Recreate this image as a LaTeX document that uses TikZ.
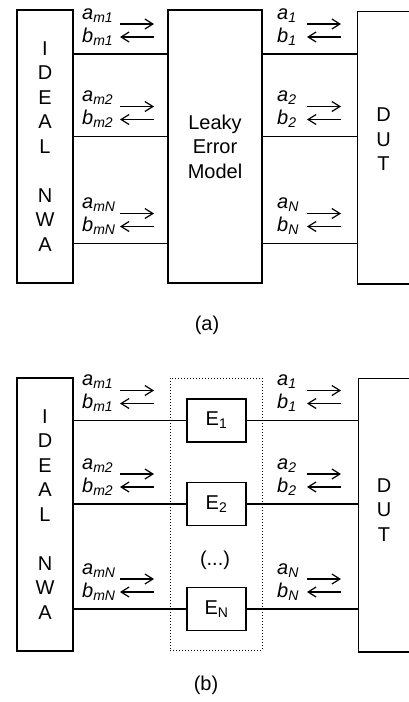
\documentclass[tikz,border=0pt]{standalone}
\usepackage{fontspec}
\setmainfont{Liberation Sans}
\usepackage{tikz}
\usetikzlibrary{arrows.meta,positioning}
\newcommand{\figfont}{\fontsize{20}{24.5}\selectfont}
\tikzset{
  unit/.style={draw,line width=1.5pt,minimum width=56pt,minimum height=273pt,
    inner sep=0pt,align=center},
  leaky/.style={draw,line width=1.5pt,minimum width=94pt,minimum height=273pt,
    inner sep=0pt,align=center},
  errbox/.style={draw,line width=1.5pt,minimum width=59pt,minimum height=43pt,
    inner sep=0pt},
  group/.style={draw,dotted,line width=1pt,minimum width=92pt,minimum height=272pt,
    inner sep=0pt},
  frame/.style={line width=1.5pt},
  wire/.style={line width=1.3pt},
  wave/.style={font=\figfont\itshape,anchor=base west,inner sep=0pt},
  fwd/.style={-{Straight Barb[length=8pt,width=10pt]},line width=1.2pt},
  bwd/.style={{Straight Barb[length=8pt,width=10pt]}-,line width=1.2pt}
}
\begin{document}
\begin{tikzpicture}[x=1pt,y=-1pt,font=\figfont]
  \useasboundingbox (0,0) rectangle (409,702);
  % (a) leaky error model
  \node[unit] (nwaA) at (45,146.5) {I\\D\\E\\A\\L\\[24.5pt]N\\W\\A};
  \node[leaky] (leak) at (215,146.5) {Leaky\\Error\\Model};
  \node[unit,draw=none,minimum width=51pt,minimum height=271pt] (dutA) at (383.5,147.5) {};
  \node[align=center] (dutAtext) at ([yshift=8pt]dutA.center) {D\\U\\T};
  \draw[frame] (dutA.north east) -- (dutA.north west) -- (dutA.south west) -- (dutA.south east);
  \foreach \y/\k in {54/1,136.5/2,243.5/N}{
    \coordinate (rowA\k) at (0,\y);
    \draw[wire] (nwaA.east |- rowA\k) -- (leak.west |- rowA\k);
    \draw[wire] (leak.east |- rowA\k) -- (dutA.west |- rowA\k);
    \node[wave] (amA\k) at (82,\y-35) {a\textsubscript{m\k}};
    \node[wave] (bmA\k) at (82,\y-12) {b\textsubscript{m\k}};
    \node[wave] (aA\k) at (277,\y-35) {a\textsubscript{\k}};
    \node[wave] (bA\k) at (277,\y-12) {b\textsubscript{\k}};
    \coordinate (fmA\k) at (120,\y-30);
    \coordinate (gmA\k) at (120,\y-17);
    \coordinate (fA\k) at (307,\y-30);
    \coordinate (gA\k) at (307,\y-17);
    \draw[fwd] (fmA\k) -- ++(34,0);
    \draw[bwd] (gmA\k) -- ++(34,0);
    \draw[fwd] (fA\k) -- ++(34,0);
    \draw[bwd] (gA\k) -- ++(34,0);
  }
  \node (capA) at (207,325) {(a)};
  % (b) separate error boxes
  \node[unit] (nwaB) at (45,514.5) {I\\D\\E\\A\\L\\[24.5pt]N\\W\\A};
  \node[group] (grp) at (216,514) {};
  \node[errbox] (e1) at (216.5,420.5) {E\textsubscript{1}};
  \node[errbox] (e2) at (216.5,504) {E\textsubscript{2}};
  \node[errbox] (eN) at (216.5,609) {E\textsubscript{N}};
  \node (dots) at (215,560) {(...)};
  \node[unit,draw=none,minimum width=50pt,minimum height=272pt] (dutB) at (384,515) {};
  \node[align=center] (dutBtext) at ([yshift=5pt]dutB.center) {D\\U\\T};
  \draw[frame] (dutB.north east) -- (dutB.north west) -- (dutB.south west) -- (dutB.south east);
  \foreach \y/\k in {420.5/1,504/2,609/N}{
    \draw[wire] (nwaB.east |- e\k.west) -- (e\k.west);
    \draw[wire] (e\k.east) -- (dutB.west |- e\k.east);
    \node[wave] (amB\k) at (82,\y-35) {a\textsubscript{m\k}};
    \node[wave] (bmB\k) at (82,\y-12) {b\textsubscript{m\k}};
    \node[wave] (aB\k) at (277,\y-35) {a\textsubscript{\k}};
    \node[wave] (bB\k) at (277,\y-12) {b\textsubscript{\k}};
    \coordinate (fmB\k) at (120,\y-30);
    \coordinate (gmB\k) at (120,\y-17);
    \coordinate (fB\k) at (307,\y-30);
    \coordinate (gB\k) at (307,\y-17);
    \draw[fwd] (fmB\k) -- ++(34,0);
    \draw[bwd] (gmB\k) -- ++(34,0);
    \draw[fwd] (fB\k) -- ++(34,0);
    \draw[bwd] (gB\k) -- ++(34,0);
  }
  \node (capB) at (206,685) {(b)};
\end{tikzpicture}
\end{document}
